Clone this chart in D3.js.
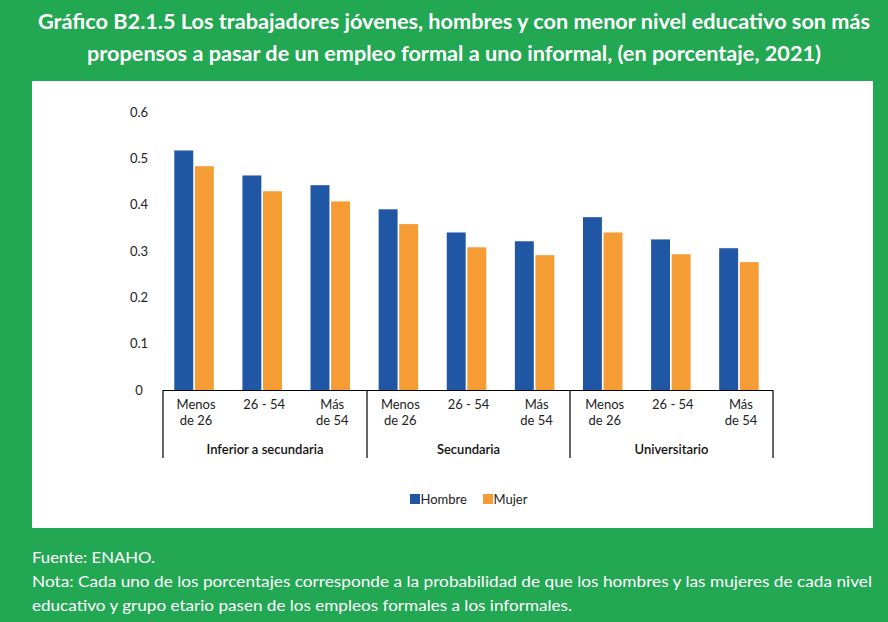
<!DOCTYPE html>
<html><head><meta charset="utf-8">
<script src="https://cdn.jsdelivr.net/npm/d3@7/dist/d3.min.js"></script>
<style>body{margin:0;background:#22a753;} svg{display:block;}</style>
</head><body>
<svg id="c" width="888" height="622"></svg>
<script>
const groups = ["Inferior a secundaria", "Secundaria", "Universitario"];
const ages = [["Menos", "de 26"], ["26 - 54"], ["Más", "de 54"]];
const series = ["Hombre", "Mujer"];
const hombre = [0.517, 0.463, 0.442, 0.390, 0.340, 0.321, 0.373, 0.325, 0.306];
const mujer  = [0.483, 0.429, 0.407, 0.358, 0.308, 0.291, 0.340, 0.293, 0.276];
const yTicks = [0, 0.1, 0.2, 0.3, 0.4, 0.5, 0.6];
const titleLines = ["Gráfico B2.1.5 Los trabajadores jóvenes, hombres y con menor nivel educativo son más",
  "propensos a pasar de un empleo formal a uno informal, (en porcentaje, 2021)"];
const notes = ["Fuente: ENAHO.",
  "Nota: Cada uno de los porcentajes corresponde a la probabilidad de que los hombres y las mujeres de cada nivel",
  "educativo y grupo etario pasen de los empleos formales a los informales."];
const colors = {Hombre: "#1f57a4", Mujer: "#f59d34"};

const svg = d3.select("#c");
const green = "#22a753";
svg.append("rect").attr("width", 888).attr("height", 622).attr("fill", green);
svg.append("rect").attr("x", 32).attr("y", 81).attr("width", 841).attr("height", 447).attr("fill", "#fff");

const font = "Lato, 'Open Sans', sans-serif";
svg.selectAll("text.title").data(titleLines).join("text")
  .attr("x", 454).attr("y", (d, i) => 29 + i * 32)
  .attr("text-anchor", "middle").attr("fill", "#fff")
  .attr("font-family", font).attr("font-weight", 700).attr("font-size", 21)
  .attr("textLength", (d, i) => i === 0 ? 832 : 734).attr("lengthAdjust", "spacingAndGlyphs")
  .text(d => d);

svg.selectAll("text.note").data(notes).join("text")
  .attr("x", 32).attr("y", (d, i) => 563 + i * 24)
  .attr("fill", "#fff").attr("font-family", font).attr("font-size", 16)
  .attr("textLength", (d, i) => [123, 840, 540][i]).attr("lengthAdjust", "spacingAndGlyphs")
  .text(d => d);

const cats = d3.range(hombre.length);
const x0 = d3.scaleBand().domain(cats).range([160, 773]).paddingInner(0.42).paddingOuter(0.21);
const x1 = d3.scaleBand().domain(series).range([0, x0.bandwidth()]).paddingInner(0.08);
const y = d3.scaleLinear().domain([0, 0.6]).range([390, 112]);

const data = cats.map(i => ({i, vals: [{s: "Hombre", v: hombre[i]}, {s: "Mujer", v: mujer[i]}]}));
const g = svg.append("g");
g.selectAll("g.cat").data(data).join("g")
  .attr("transform", d => `translate(${x0(d.i)},0)`)
  .selectAll("rect").data(d => d.vals).join("rect")
  .attr("x", d => x1(d.s)).attr("width", x1.bandwidth())
  .attr("y", d => y(d.v)).attr("height", d => y(0) - y(d.v))
  .attr("fill", d => colors[d.s]);

// y axis labels
const yAxis = d3.axisLeft(y).tickValues(yTicks).tickSize(0).tickFormat(d => d === 0 ? "0" : d3.format(".1f")(d));
const ya = svg.append("g").attr("transform", "translate(148,0)").call(yAxis);
ya.select(".domain").remove();
ya.selectAll("text").attr("font-family", font).attr("font-size", 13).attr("fill", "#222")
  .attr("text-anchor", "middle").attr("x", -9);

// x axis line and group dividers
const lineCol = "#000";
svg.append("line").attr("x1", 163).attr("x2", 773).attr("y1", 390.5).attr("y2", 390.5).attr("stroke", lineCol).attr("stroke-width", 1.2);
const bounds = [163, 367, 570, 773];
svg.selectAll("line.div").data(bounds).join("line")
  .attr("x1", d => d).attr("x2", d => d).attr("y1", 390).attr("y2", 458)
  .attr("stroke", lineCol).attr("stroke-width", 1.2);

// age labels
const ageLabel = svg.append("g");
cats.forEach(i => {
  const a = ages[i % 3];
  const cx = x0(i) + x0.bandwidth() / 2 + 2;
  const t = ageLabel.append("text").attr("x", cx).attr("y", 409).attr("text-anchor", "middle")
    .attr("font-family", font).attr("font-size", 13).attr("fill", "#222");
  a.forEach((l, k) => t.append("tspan").attr("x", cx).attr("dy", k === 0 ? 0 : 16).text(l));
});
svg.selectAll("text.grp").data(groups).join("text")
  .attr("x", (d, i) => (bounds[i] + bounds[i + 1]) / 2).attr("y", 454)
  .attr("text-anchor", "middle").attr("font-family", font).attr("font-size", 13)
  .attr("font-weight", 600).attr("fill", "#111").text(d => d);

// legend
const legX = [410, 483];
const lg = svg.selectAll("g.leg").data(series).join("g")
  .attr("transform", (d, i) => `translate(${legX[i]},494)`);
lg.append("rect").attr("width", 10).attr("height", 10).attr("fill", d => colors[d]);
lg.append("text").attr("x", 10.5).attr("y", 9.5).attr("font-family", font).attr("font-size", 13)
  .attr("fill", "#222").text(d => d);
</script>
</body></html>
